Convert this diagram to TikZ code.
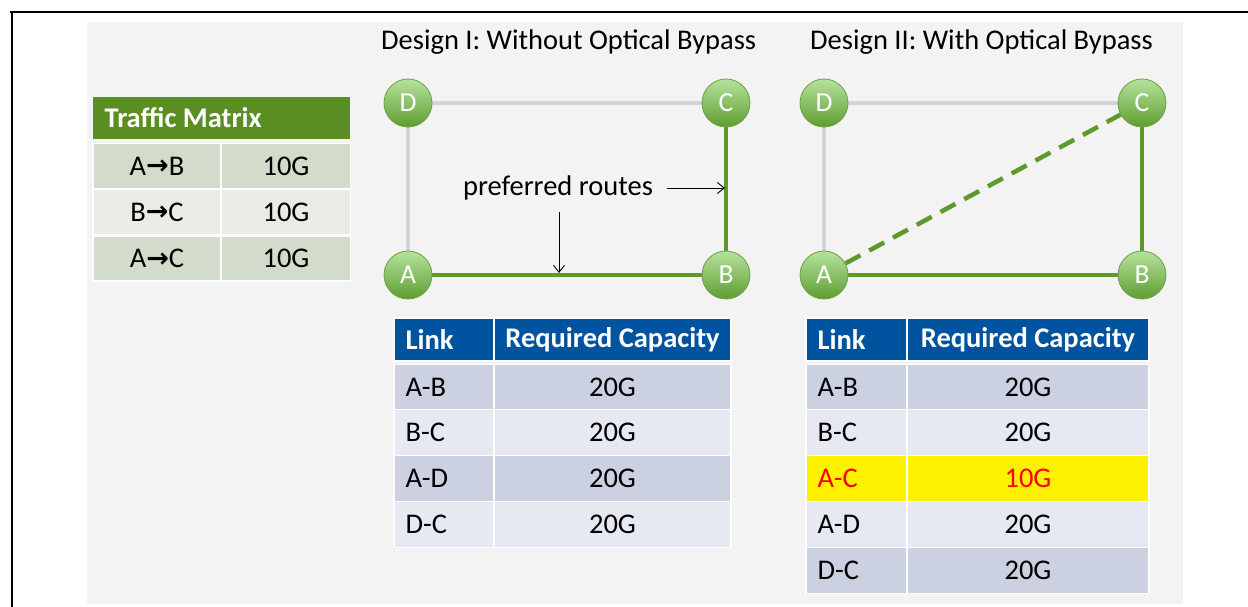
\documentclass[tikz,border=0pt]{standalone}
\usepackage{fontspec}
\setmainfont{Carlito}
\newfontfamily\arrowfont{DejaVu Sans}
\usetikzlibrary{arrows.meta}
\definecolor{bggray}{HTML}{F3F3F3}
\definecolor{tmgreen}{HTML}{5B8E22}
\definecolor{tmdark}{HTML}{D3DCCB}
\definecolor{tmlight}{HTML}{E8ECE4}
\definecolor{hdrblue}{HTML}{00539F}
\definecolor{rowdark}{HTML}{CBD1E0}
\definecolor{rowlight}{HTML}{E6E9F1}
\definecolor{nodetop}{HTML}{B6E29C}
\definecolor{nodebot}{HTML}{5E9E30}
\definecolor{nodeline}{HTML}{6E9F44}
\definecolor{edgegray}{HTML}{D4D4D4}
\definecolor{edgegreen}{HTML}{5E9A2B}
\definecolor{hlred}{HTML}{FF0000}
\pgfdeclarelayer{bg}
\pgfdeclarelayer{edges}
\pgfsetlayers{bg,edges,main}
\newcommand{\tmarrow}{{\arrowfont\bfseries\fontsize{27}{28}\selectfont\raisebox{0.5pt}{→}}}
\tikzset{
  txt/.style={font=\fontsize{28.5}{31}\selectfont, inner sep=0pt},
  cell/.style={draw=white, line width=1.2pt, inner sep=0pt, minimum height=44pt},
  hdrcell/.style={cell, fill=hdrblue, minimum height=43pt},
  hdrtxt/.style={txt, font=\fontsize{28.5}{31}\selectfont\bfseries, text=white},
  netnode/.style={circle, minimum size=48pt, inner sep=0pt, top color=nodetop, bottom color=nodebot, draw=nodeline, line width=0.8pt, text=white, font=\fontsize{27.5}{29}\selectfont},
  grayedge/.style={draw=edgegray, line width=4pt},
  greenedge/.style={draw=edgegreen, line width=3.5pt},
  bypass/.style={draw=edgegreen, line width=4.5pt, dash pattern=on 17pt off 10pt},
  pointer/.style={draw=black, line width=0.9pt, -{Straight Barb[length=7pt,width=11pt]}},
}
\begin{document}
\begin{tikzpicture}[x=1pt,y=-1pt]
\useasboundingbox (0,0) rectangle (1248,607);
\begin{pgfonlayer}{bg}
  \fill[white] (0,0) rectangle (1248,607);
  \fill[bggray] (87,22) rectangle (1183,604);
  \draw[black, line width=2pt] (10,12) -- (1248,12);
  \draw[black, line width=2pt] (12,12) -- (12,607);
\end{pgfonlayer}

% Titles
\node[txt, anchor=west] (t1) at (381,42) {Design I: Without Optical Bypass};
\node[txt, anchor=west] (t2) at (810,42) {Design II: With Optical Bypass};

% Traffic matrix
\node[cell, fill=tmgreen, minimum width=257pt, minimum height=42pt, draw=none] (tmh) at (221.5,118) {};
\node[hdrtxt, anchor=west] (tmht) at ([xshift=12pt]tmh.west) {Traffic Matrix};
\node[cell, fill=tmdark, minimum width=128pt, minimum height=45pt] (tm11) at (157,166) {};
\node[cell, fill=tmdark, minimum width=129pt, minimum height=45pt] (tm12) at (286,166) {};
\node[cell, fill=tmlight, minimum width=128pt, minimum height=46pt] (tm21) at (157,212) {};
\node[cell, fill=tmlight, minimum width=129pt, minimum height=46pt] (tm22) at (286,212) {};
\node[cell, fill=tmdark, minimum width=128pt, minimum height=45pt] (tm31) at (157,258.5) {};
\node[cell, fill=tmdark, minimum width=129pt, minimum height=45pt] (tm32) at (286,258.5) {};
\node[txt] at (tm11) {A\tmarrow B};
\node[txt] at (tm12) {10G};
\node[txt] at (tm21) {B\tmarrow C};
\node[txt] at (tm22) {10G};
\node[txt] at (tm31) {A\tmarrow C};
\node[txt] at (tm32) {10G};

% Design I network
\node[netnode] (D1) at (408,103) {D};
\node[netnode] (C1) at (726,103) {C};
\node[netnode] (A1) at (408,275) {A};
\node[netnode] (B1) at (726,275) {B};
\begin{pgfonlayer}{edges}
  \draw[grayedge] (D1) -- (C1);
  \draw[grayedge] (D1) -- (A1);
  \draw[greenedge] (A1) -- (B1);
  \draw[greenedge] (C1) -- (B1);
\end{pgfonlayer}
\node[txt] (pr) at (558,188) {preferred routes};
\coordinate (r1) at (667,188);
\coordinate (r2) at (725,188);
\coordinate (d1) at (559,212);
\coordinate (d2) at (559,273);
\draw[pointer] (r1) -- (r2);
\draw[pointer] (d1) -- (d2);

% Design II network
\node[netnode] (D2) at (824,103) {D};
\node[netnode] (C2) at (1142,103) {C};
\node[netnode] (A2) at (824,275) {A};
\node[netnode] (B2) at (1142,275) {B};
\begin{pgfonlayer}{edges}
  \draw[grayedge] (D2) -- (C2);
  \draw[grayedge] (D2) -- (A2);
  \draw[greenedge] (A2) -- (B2);
  \draw[greenedge] (C2) -- (B2);
  \draw[bypass] (A2) -- (C2);
\end{pgfonlayer}

% Table I
\node[hdrcell, minimum width=100pt] (h11) at (444,339.5) {};
\node[hdrcell, minimum width=237pt] (h12) at (612.5,339.5) {};
\node[hdrtxt, anchor=west] at ([xshift=12pt]h11.west) {Link};
\node[hdrtxt] at (h12) {Required Capacity};
\foreach \r/\y/\c/\l in {1/387.5/rowdark/A-B, 2/432.5/rowlight/B-C, 3/478.5/rowdark/A-D, 4/524.5/rowlight/D-C}{
  \node[cell, fill=\c, minimum width=100pt, minimum height=46pt] (a\r) at (444,\y) {};
  \node[cell, fill=\c, minimum width=237pt, minimum height=46pt] (b\r) at (612.5,\y) {};
  \node[txt, anchor=west] at ([xshift=12pt]a\r.west) {\l};
  \node[txt] at (b\r) {20G};
}

% Table II
\node[hdrcell, minimum width=101pt] (h21) at (856.5,339.5) {};
\node[hdrcell, minimum width=242pt] (h22) at (1028,339.5) {};
\node[hdrtxt, anchor=west] at ([xshift=12pt]h21.west) {Link};
\node[hdrtxt] at (h22) {Required Capacity};
\foreach \r/\y/\c/\l/\v/\tc in {1/387.5/rowdark/A-B/20G/black, 2/432.5/rowlight/B-C/20G/black, 3/478.5/yellow/A-C/10G/hlred, 4/524.5/rowlight/A-D/20G/black, 5/570.5/rowdark/D-C/20G/black}{
  \node[cell, fill=\c, minimum width=101pt, minimum height=46pt] (e\r) at (856.5,\y) {};
  \node[cell, fill=\c, minimum width=242pt, minimum height=46pt] (f\r) at (1028,\y) {};
  \node[txt, anchor=west, text=\tc] at ([xshift=12pt]e\r.west) {\l};
  \node[txt, text=\tc] at (f\r) {\v};
}
\end{tikzpicture}
\end{document}
